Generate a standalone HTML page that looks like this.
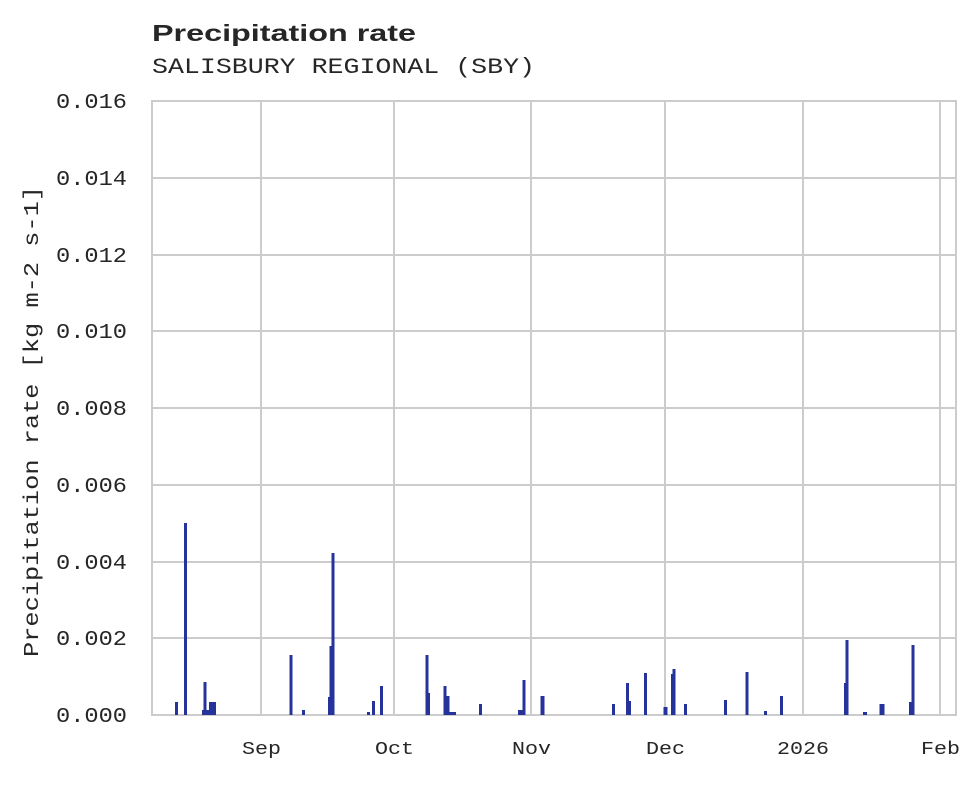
<!DOCTYPE html>
<html><head><meta charset="utf-8"><style>
body{margin:0;background:#fff;width:980px;height:780px;overflow:hidden}
svg text{font-family:"Liberation Mono",monospace;fill:#262626}
</style></head><body>
<svg width="980" height="780" xmlns="http://www.w3.org/2000/svg">
<text x="152" y="41" textLength="264" lengthAdjust="spacingAndGlyphs" style="font-family:'Liberation Sans',sans-serif;font-weight:bold;font-size:23px">Precipitation rate</text>
<text x="152" y="73" font-size="22" textLength="383" lengthAdjust="spacingAndGlyphs">SALISBURY REGIONAL (SBY)</text>
<g stroke="#cccccc" stroke-width="2">
<line x1="152" y1="638" x2="956" y2="638"/><line x1="152" y1="562" x2="956" y2="562"/>
<line x1="152" y1="485" x2="956" y2="485"/><line x1="152" y1="408" x2="956" y2="408"/>
<line x1="152" y1="331" x2="956" y2="331"/><line x1="152" y1="255" x2="956" y2="255"/>
<line x1="152" y1="178" x2="956" y2="178"/>
<line x1="261" y1="101" x2="261" y2="715"/><line x1="394" y1="101" x2="394" y2="715"/>
<line x1="531" y1="101" x2="531" y2="715"/><line x1="665" y1="101" x2="665" y2="715"/>
<line x1="803" y1="101" x2="803" y2="715"/><line x1="940" y1="101" x2="940" y2="715"/>
<rect x="152" y="101" width="804" height="614" fill="none"/>
</g>
<g fill="#25339a">
<rect x="175" y="702" width="3" height="13"/>
<rect x="184" y="523" width="3" height="192"/>
<rect x="203.5" y="682" width="3" height="33"/><rect x="202" y="710" width="7" height="5"/>
<rect x="209" y="702" width="7" height="13"/>
<rect x="289.5" y="655" width="3" height="60"/>
<rect x="302" y="710" width="3" height="5"/>
<rect x="328" y="697" width="3" height="18"/><rect x="329.5" y="646" width="2" height="69"/>
<rect x="331.5" y="553" width="3" height="162"/>
<rect x="367" y="712" width="3" height="3"/><rect x="372" y="701" width="3" height="14"/>
<rect x="380" y="686" width="3" height="29"/>
<rect x="425.5" y="655" width="3" height="60"/><rect x="427" y="693" width="3" height="22"/>
<rect x="443.5" y="686" width="3" height="29"/><rect x="446.5" y="696" width="3" height="19"/>
<rect x="449" y="712" width="7" height="3"/>
<rect x="479" y="704" width="3" height="11"/>
<rect x="518" y="710" width="5" height="5"/><rect x="522.5" y="680" width="3" height="35"/>
<rect x="540.5" y="696" width="4" height="19"/>
<rect x="612" y="704" width="3" height="11"/>
<rect x="626" y="683" width="3" height="32"/><rect x="628" y="701" width="3" height="14"/>
<rect x="644" y="673" width="3" height="42"/>
<rect x="663.5" y="707" width="4" height="8"/>
<rect x="671" y="674" width="2" height="41"/><rect x="672.5" y="669" width="3" height="46"/>
<rect x="684" y="704" width="3" height="11"/>
<rect x="724" y="700" width="3" height="15"/>
<rect x="745.5" y="672" width="3" height="43"/>
<rect x="764" y="711" width="3" height="4"/>
<rect x="780" y="696" width="3" height="19"/>
<rect x="844" y="683" width="2" height="32"/><rect x="845.5" y="640" width="3" height="75"/>
<rect x="863" y="712" width="4" height="3"/>
<rect x="879.5" y="704" width="5" height="11"/>
<rect x="909" y="702" width="3" height="13"/><rect x="911.5" y="645" width="3" height="70"/>
</g>
<g font-size="21">
<text x="56" y="722" textLength="71" lengthAdjust="spacingAndGlyphs">0.000</text>
<text x="56" y="645" textLength="71" lengthAdjust="spacingAndGlyphs">0.002</text>
<text x="56" y="569" textLength="71" lengthAdjust="spacingAndGlyphs">0.004</text>
<text x="56" y="492" textLength="71" lengthAdjust="spacingAndGlyphs">0.006</text>
<text x="56" y="415" textLength="71" lengthAdjust="spacingAndGlyphs">0.008</text>
<text x="56" y="338" textLength="71" lengthAdjust="spacingAndGlyphs">0.010</text>
<text x="56" y="262" textLength="71" lengthAdjust="spacingAndGlyphs">0.012</text>
<text x="56" y="185" textLength="71" lengthAdjust="spacingAndGlyphs">0.014</text>
<text x="56" y="108" textLength="71" lengthAdjust="spacingAndGlyphs">0.016</text>
</g>
<g font-size="18">
<text x="242" y="754" textLength="39" lengthAdjust="spacingAndGlyphs">Sep</text>
<text x="375" y="754" textLength="39" lengthAdjust="spacingAndGlyphs">Oct</text>
<text x="512" y="754" textLength="39" lengthAdjust="spacingAndGlyphs">Nov</text>
<text x="646" y="754" textLength="39" lengthAdjust="spacingAndGlyphs">Dec</text>
<text x="777" y="754" textLength="52" lengthAdjust="spacingAndGlyphs">2026</text>
<text x="921" y="754" textLength="39" lengthAdjust="spacingAndGlyphs">Feb</text>
</g>
<text transform="translate(38,657) rotate(-90)" font-size="21" textLength="471" lengthAdjust="spacingAndGlyphs">Precipitation rate [kg m-2 s-1]</text>
</svg>
</body></html>
